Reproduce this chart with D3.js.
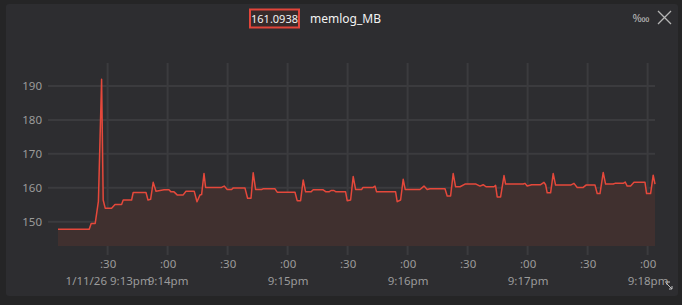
<!DOCTYPE html>
<html>
<head>
<meta charset="utf-8">
<script src="https://cdn.jsdelivr.net/npm/d3@7"></script>
<style>
  html, body { margin: 0; padding: 0; background: #252526; }
  svg { display: block; font-family: "Noto Sans", "DejaVu Sans", sans-serif; }
</style>
</head>
<body>
<svg id="chart" width="682" height="305"></svg>
<script>
// seconds after 9:13:00pm, and memlog_MB values
const secs = [5.2, 20.8, 21.8, 23.8, 25.4, 27.0, 27.8, 28.8, 32.0, 33.7, 37.0, 37.8, 42.0, 42.8, 49.2, 50.2,
  51.5, 52.8, 54.2, 58.2, 60.7, 61.7, 63.2, 64.8, 67.8, 69.2, 73.3, 74.7, 76.2, 77.0, 78.2, 79.0,
  87.0, 88.3, 89.8, 92.0, 92.7, 98.7, 100.0, 101.7, 102.8, 104.0, 107.0, 107.7, 113.7, 114.8, 123.7, 124.8,
  126.5, 127.8, 129.0, 131.7, 132.8, 137.8, 139.2, 140.7, 141.7, 143.2, 144.2, 149.0, 149.8, 151.5,
  152.8, 154.0, 157.0, 157.7, 162.8, 163.7, 164.5, 174.0, 174.8, 176.5, 177.8, 178.8, 186.2, 188.2,
  189.8, 191.2, 198.7, 199.8, 201.5, 202.8, 204.0, 206.2, 208.7, 214.2, 216.2, 217.8, 219.2, 223.2,
  224.0, 224.8, 226.5, 228.2, 229.0, 237.8, 238.7, 239.8, 242.0, 246.5, 248.2, 249.0, 249.8, 251.5,
  252.8, 254.0, 261.5, 263.2, 264.8, 267.8, 269.2, 273.7, 274.8, 276.2, 277.8, 279.0, 282.8, 283.7,
  287.8, 288.8, 289.8, 291.5, 293.2, 298.7, 299.5, 301.5, 302.8, 303.7];
const memMB = [147.8, 147.8, 149.5, 149.5, 156.0, 192.0, 156.4, 154.0, 154.0, 155.1, 155.1, 156.4, 156.4, 158.6, 158.6, 156.4,
  156.6, 161.6, 159.0, 159.4, 159.4, 158.8, 158.8, 157.9, 157.9, 159.0, 159.0, 155.9, 157.9, 158.0, 164.2, 160.1,
  160.1, 160.5, 159.5, 159.5, 159.9, 159.9, 156.9, 156.9, 164.4, 159.5, 159.5, 159.7, 159.7, 158.7, 158.7, 156.2,
  156.2, 162.3, 158.8, 158.8, 159.4, 159.4, 158.8, 158.8, 159.2, 159.2, 158.8, 158.8, 156.2, 156.4,
  163.3, 159.5, 159.5, 160.1, 160.1, 160.5, 158.8, 158.8, 155.9, 156.4, 162.5, 159.5, 159.5, 160.5,
  159.5, 159.7, 159.7, 157.6, 157.6, 164.2, 160.3, 160.3, 161.1, 161.1, 160.5, 160.9, 160.3, 160.3,
  160.7, 157.3, 157.3, 163.6, 161.1, 161.1, 161.3, 160.5, 160.9, 160.9, 161.6, 160.9, 158.5, 158.5,
  164.2, 160.8, 160.8, 161.3, 160.1, 160.1, 160.8, 160.8, 158.3, 158.3, 164.5, 161.1, 161.1, 161.3,
  161.3, 161.7, 160.5, 160.5, 161.6, 161.6, 158.3, 158.3, 163.7, 161.0938];

const yTicks = [150, 160, 170, 180, 190];
const xTickTop = [":30", ":00", ":30", ":00", ":30", ":00", ":30", ":00", ":30", ":00"];
const xTickBottom = ["1/11/26 9:13pm", "9:14pm", "", "9:15pm", "", "9:16pm", "", "9:17pm", "", "9:18pm"];
const seriesName = "memlog_MB";
const currentValue = "161.0938";

const t0 = new Date(2026, 0, 11, 21, 13, 0);
const data = secs.map((s, i) => ({ t: new Date(+t0 + s * 1000), v: memMB[i] }));

const svg = d3.select("#chart");

// panel
svg.append("rect")
  .attr("x", 6).attr("y", 4).attr("width", 672).attr("height", 292)
  .attr("rx", 3).attr("fill", "#2d2d30");

const x = d3.scaleTime()
  .domain(d3.extent(data, d => d.t))
  .range([58, 655]);
const y = d3.scaleLinear()
  .domain([142.84, 196.78])
  .range([246, 63]);

const xTicks = x.ticks(d3.timeSecond.every(30));

// grid
svg.append("g").selectAll("line").data(yTicks).join("line")
  .attr("x1", 48).attr("x2", 655)
  .attr("y1", d => y(d)).attr("y2", d => y(d))
  .attr("stroke", "#3b3b3e").attr("stroke-width", 2);
svg.append("g").selectAll("line").data(xTicks).join("line")
  .attr("x1", d => x(d)).attr("x2", d => x(d))
  .attr("y1", 63).attr("y2", 255)
  .attr("stroke", "#3b3b3e").attr("stroke-width", 2);

// area + line
svg.append("path").datum(data)
  .attr("fill", "#40302f")
  .attr("d", d3.area().x(d => x(d.t)).y0(246).y1(d => y(d.v)));
svg.append("path").datum(data)
  .attr("fill", "none")
  .attr("stroke", "#e5483b")
  .attr("stroke-width", 1.5)
  .attr("stroke-linejoin", "round")
  .attr("d", d3.line().x(d => x(d.t)).y(d => y(d.v)));

// y axis labels
const yAxis = svg.append("g")
  .attr("transform", "translate(42,0)")
  .call(d3.axisLeft(y).tickValues(yTicks).tickSize(0).tickPadding(0));
yAxis.select(".domain").remove();
yAxis.selectAll("text").attr("fill", "#9b9b9b").style("font-size", "11.5px")
  .style("font-family", "\"Noto Sans\", sans-serif");

// x axis labels: two rows
const xTop = svg.append("g")
  .attr("transform", "translate(0,257)")
  .call(d3.axisBottom(x).tickValues(xTicks).tickSize(0).tickPadding(3)
    .tickFormat((d, i) => xTickTop[i]));
const xBottom = svg.append("g")
  .attr("transform", "translate(0,274)")
  .call(d3.axisBottom(x).tickValues(xTicks).tickSize(0).tickPadding(3)
    .tickFormat((d, i) => xTickBottom[i]));
[xTop, xBottom].forEach(g => {
  g.select(".domain").remove();
  g.selectAll("text").attr("fill", "#9b9b9b").style("font-size", "11.5px")
    .style("font-family", "\"Noto Sans\", sans-serif");
});

// header
svg.append("rect")
  .attr("x", 250).attr("y", 9.5).attr("width", 49).attr("height", 18)
  .attr("fill", "#372a2a").attr("stroke", "#e2453a").attr("stroke-width", 2);
svg.append("text")
  .attr("x", 274.5).attr("y", 22.5).attr("text-anchor", "middle")
  .attr("fill", "#f2f2f2").style("font-size", "11px")
  .text(currentValue);
svg.append("text")
  .attr("x", 310).attr("y", 22.5)
  .attr("fill", "#f2f2f2").style("font-size", "12px")
  .text(seriesName);

// right icons
svg.append("text")
  .attr("x", 641).attr("y", 22).attr("text-anchor", "middle")
  .attr("fill", "#b5b5b5").style("font-size", "11px")
  .text("\u2031");
svg.append("path")
  .attr("d", "M658,11 L671,24 M671,11 L658,24")
  .attr("stroke", "#b5b5b5").attr("stroke-width", 1.3).attr("fill", "none");

// resize grip
svg.append("path")
  .attr("d", "M666,283 L672,289 M669,289 L672,289 L672,286 M665,282 L670,282")
  .attr("stroke", "#c0c0c0").attr("stroke-width", 1).attr("fill", "none");
</script>
</body>
</html>
